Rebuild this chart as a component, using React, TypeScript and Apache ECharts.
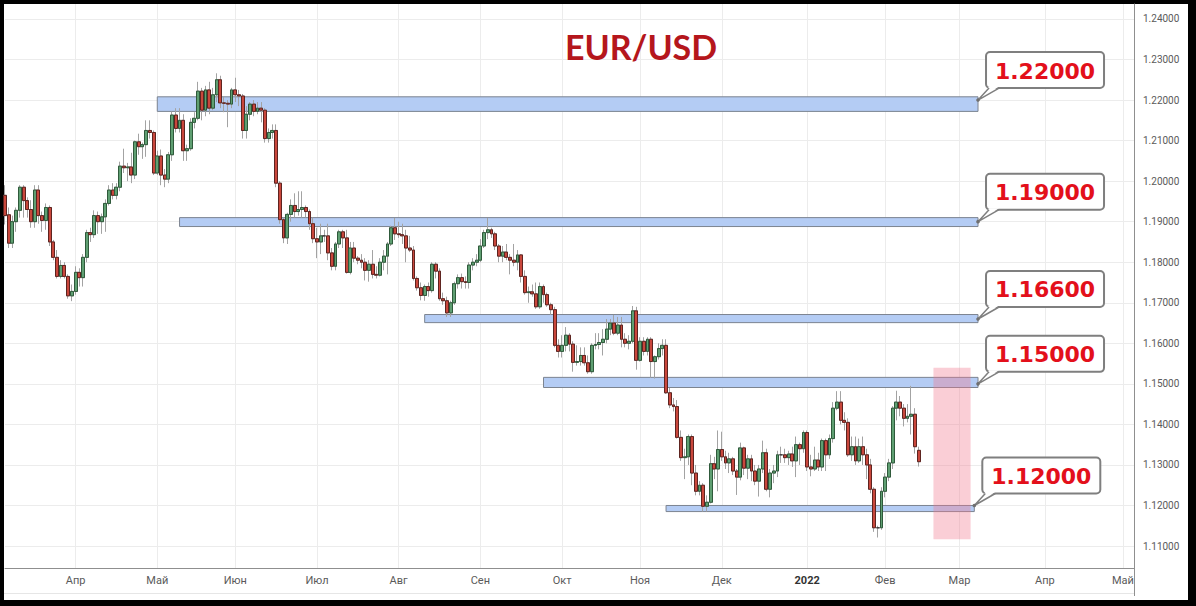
import React, { useEffect, useRef } from "react";
import * as echarts from "echarts";

// ---- daily EUR/USD candles, each [open, high, low, close] ----
const mar21 = [
  [1.1965, 1.1990, 1.1893, 1.1915], [1.1917, 1.1935, 1.1835, 1.1847], [1.1847, 1.1915, 1.1835, 1.1900],
  [1.1900, 1.1935, 1.1875, 1.1928], [1.1928, 1.1990, 1.1910, 1.1985], [1.1985, 1.1990, 1.1910, 1.1952],
  [1.1952, 1.1960, 1.1910, 1.1930], [1.1930, 1.1953, 1.1885, 1.1900], [1.1900, 1.1990, 1.1885, 1.1978],
  [1.1978, 1.1990, 1.1895, 1.1915], [1.1915, 1.1925, 1.1875, 1.1903], [1.1903, 1.1945, 1.1880, 1.1935],
  [1.1935, 1.1940, 1.1840, 1.1850], [1.1850, 1.1855, 1.1805, 1.1812], [1.1812, 1.1830, 1.1760, 1.1765],
  [1.1765, 1.1805, 1.1760, 1.1792], [1.1792, 1.1800, 1.1760, 1.1765], [1.1765, 1.1770, 1.1710, 1.1717],
  [1.1717, 1.1745, 1.1704, 1.1728],
];
const apr21 = [
  [1.1728, 1.1790, 1.1720, 1.1775], [1.1775, 1.1785, 1.1740, 1.1762], [1.1762, 1.1820, 1.1740, 1.1812],
  [1.1812, 1.1880, 1.1800, 1.1873], [1.1873, 1.1885, 1.1850, 1.1868], [1.1868, 1.1928, 1.1860, 1.1915],
  [1.1915, 1.1925, 1.1870, 1.1900], [1.1900, 1.1920, 1.1870, 1.1912], [1.1912, 1.1955, 1.1875, 1.1945],
  [1.1945, 1.1990, 1.1940, 1.1978], [1.1978, 1.1995, 1.1955, 1.1965], [1.1965, 1.1995, 1.1955, 1.1985],
  [1.1985, 1.2048, 1.1975, 1.2037], [1.2037, 1.2080, 1.2020, 1.2033], [1.2033, 1.2045, 1.2000, 1.2035],
  [1.2035, 1.2070, 1.1995, 1.2015], [1.2015, 1.2100, 1.2005, 1.2097], [1.2097, 1.2117, 1.2065, 1.2085],
  [1.2085, 1.2095, 1.2055, 1.2090], [1.2090, 1.2150, 1.2060, 1.2125], [1.2125, 1.2150, 1.2105, 1.2120],
  [1.2120, 1.2125, 1.2015, 1.2020],
];
const may21 = [
  [1.2020, 1.2075, 1.2015, 1.2062], [1.2062, 1.2078, 1.1990, 1.2015], [1.2015, 1.2030, 1.1985, 1.2005],
  [1.2005, 1.2072, 1.1995, 1.2065], [1.2065, 1.2172, 1.2050, 1.2163], [1.2163, 1.2180, 1.2120, 1.2130],
  [1.2130, 1.2180, 1.2120, 1.2150], [1.2150, 1.2165, 1.2050, 1.2075], [1.2075, 1.2090, 1.2050, 1.2080],
  [1.2080, 1.2155, 1.2075, 1.2145], [1.2145, 1.2170, 1.2130, 1.2155], [1.2155, 1.2245, 1.2150, 1.2222],
  [1.2222, 1.2230, 1.2150, 1.2175], [1.2175, 1.2235, 1.2160, 1.2225], [1.2225, 1.2245, 1.2165, 1.2180],
  [1.2180, 1.2230, 1.2175, 1.2213], [1.2213, 1.2266, 1.2195, 1.2250], [1.2250, 1.2260, 1.2180, 1.2193],
  [1.2193, 1.2210, 1.2170, 1.2192], [1.2192, 1.2200, 1.2133, 1.2190], [1.2190, 1.2230, 1.2180, 1.2225],
];
const jun21 = [
  [1.2225, 1.2255, 1.2195, 1.2213], [1.2213, 1.2225, 1.2185, 1.2210], [1.2210, 1.2215, 1.2105, 1.2125],
  [1.2125, 1.2185, 1.2105, 1.2165], [1.2165, 1.2195, 1.2150, 1.2190], [1.2190, 1.2200, 1.2160, 1.2172],
  [1.2172, 1.2195, 1.2165, 1.2180], [1.2180, 1.2195, 1.2145, 1.2175], [1.2175, 1.2180, 1.2095, 1.2105],
  [1.2105, 1.2130, 1.2095, 1.2120], [1.2120, 1.2140, 1.2105, 1.2125], [1.2125, 1.2140, 1.1985, 1.1995],
  [1.1995, 1.2000, 1.1895, 1.1905], [1.1905, 1.1910, 1.1847, 1.1860], [1.1860, 1.1922, 1.1845, 1.1918],
  [1.1918, 1.1955, 1.1900, 1.1940], [1.1940, 1.1970, 1.1910, 1.1925], [1.1925, 1.1975, 1.1915, 1.1930],
  [1.1930, 1.1975, 1.1910, 1.1935], [1.1935, 1.1940, 1.1910, 1.1925], [1.1925, 1.1930, 1.1880, 1.1895],
  [1.1895, 1.1910, 1.1847, 1.1858],
];
const jul21 = [
  [1.1858, 1.1885, 1.1810, 1.1850], [1.1850, 1.1895, 1.1820, 1.1865], [1.1865, 1.1880, 1.1850, 1.1865],
  [1.1865, 1.1895, 1.1805, 1.1823], [1.1823, 1.1835, 1.1780, 1.1790], [1.1790, 1.1850, 1.1780, 1.1845],
  [1.1845, 1.1880, 1.1835, 1.1875], [1.1875, 1.1880, 1.1835, 1.1860], [1.1860, 1.1880, 1.1772, 1.1775],
  [1.1775, 1.1850, 1.1770, 1.1835], [1.1835, 1.1850, 1.1800, 1.1810], [1.1810, 1.1815, 1.1795, 1.1805],
  [1.1805, 1.1820, 1.1785, 1.1800], [1.1800, 1.1810, 1.1755, 1.1780], [1.1780, 1.1805, 1.1752, 1.1795],
  [1.1795, 1.1830, 1.1760, 1.1770], [1.1770, 1.1790, 1.1760, 1.1768], [1.1768, 1.1810, 1.1765, 1.1800],
  [1.1800, 1.1830, 1.1780, 1.1815], [1.1815, 1.1850, 1.1770, 1.1845], [1.1845, 1.1890, 1.1840, 1.1885],
  [1.1885, 1.1909, 1.1855, 1.1870],
];
const aug21 = [
  [1.1870, 1.1900, 1.1860, 1.1868], [1.1868, 1.1895, 1.1845, 1.1865], [1.1865, 1.1880, 1.1800, 1.1835],
  [1.1835, 1.1865, 1.1825, 1.1830], [1.1830, 1.1840, 1.1755, 1.1760], [1.1760, 1.1765, 1.1730, 1.1737],
  [1.1737, 1.1750, 1.1706, 1.1718], [1.1718, 1.1745, 1.1705, 1.1740], [1.1740, 1.1750, 1.1715, 1.1730],
  [1.1730, 1.1800, 1.1725, 1.1795], [1.1795, 1.1800, 1.1760, 1.1778], [1.1778, 1.1785, 1.1705, 1.1710],
  [1.1710, 1.1725, 1.1695, 1.1705], [1.1705, 1.1715, 1.1665, 1.1675], [1.1675, 1.1705, 1.1665, 1.1700],
  [1.1700, 1.1752, 1.1695, 1.1747], [1.1747, 1.1770, 1.1735, 1.1762], [1.1762, 1.1772, 1.1735, 1.1752],
  [1.1752, 1.1765, 1.1735, 1.1750], [1.1750, 1.1800, 1.1735, 1.1793], [1.1793, 1.1810, 1.1780, 1.1800],
  [1.1800, 1.1820, 1.1790, 1.1805],
];
const sep21 = [
  [1.1805, 1.1857, 1.1800, 1.1840], [1.1840, 1.1880, 1.1835, 1.1873], [1.1873, 1.1909, 1.1857, 1.1880],
  [1.1880, 1.1885, 1.1860, 1.1870], [1.1870, 1.1875, 1.1830, 1.1840], [1.1840, 1.1845, 1.1800, 1.1815],
  [1.1815, 1.1840, 1.1800, 1.1825], [1.1825, 1.1845, 1.1805, 1.1812], [1.1812, 1.1820, 1.1770, 1.1805],
  [1.1805, 1.1845, 1.1790, 1.1800], [1.1800, 1.1830, 1.1780, 1.1818], [1.1818, 1.1820, 1.1750, 1.1765],
  [1.1765, 1.1780, 1.1720, 1.1725], [1.1725, 1.1740, 1.1700, 1.1727], [1.1727, 1.1745, 1.1715, 1.1722],
  [1.1722, 1.1750, 1.1685, 1.1690], [1.1690, 1.1750, 1.1685, 1.1740], [1.1740, 1.1745, 1.1700, 1.1720],
  [1.1720, 1.1725, 1.1690, 1.1695], [1.1695, 1.1700, 1.1670, 1.1683], [1.1683, 1.1690, 1.1590, 1.1595],
  [1.1595, 1.1610, 1.1565, 1.1580],
];
const oct21 = [
  [1.1580, 1.1620, 1.1565, 1.1595], [1.1595, 1.1640, 1.1580, 1.1620], [1.1620, 1.1625, 1.1580, 1.1598],
  [1.1598, 1.1605, 1.1530, 1.1553], [1.1553, 1.1595, 1.1545, 1.1555], [1.1555, 1.1590, 1.1545, 1.1570],
  [1.1570, 1.1590, 1.1545, 1.1552], [1.1552, 1.1570, 1.1525, 1.1530], [1.1530, 1.1600, 1.1525, 1.1595],
  [1.1595, 1.1625, 1.1585, 1.1597], [1.1597, 1.1625, 1.1585, 1.1602], [1.1602, 1.1635, 1.1570, 1.1610],
  [1.1610, 1.1660, 1.1600, 1.1635], [1.1635, 1.1660, 1.1620, 1.1650], [1.1650, 1.1670, 1.1620, 1.1625],
  [1.1625, 1.1665, 1.1620, 1.1645], [1.1645, 1.1665, 1.1590, 1.1610], [1.1610, 1.1625, 1.1590, 1.1600],
  [1.1600, 1.1620, 1.1585, 1.1605], [1.1605, 1.1692, 1.1600, 1.1680], [1.1680, 1.1690, 1.1535, 1.1558],
];
const nov21 = [
  [1.1558, 1.1615, 1.1555, 1.1605], [1.1605, 1.1615, 1.1570, 1.1580], [1.1580, 1.1615, 1.1570, 1.1610],
  [1.1610, 1.1615, 1.1515, 1.1555], [1.1555, 1.1570, 1.1513, 1.1567], [1.1567, 1.1600, 1.1560, 1.1587],
  [1.1587, 1.1610, 1.1570, 1.1595], [1.1595, 1.1610, 1.1475, 1.1478], [1.1478, 1.1490, 1.1440, 1.1448],
  [1.1448, 1.1465, 1.1432, 1.1444], [1.1444, 1.1460, 1.1365, 1.1368], [1.1368, 1.1385, 1.1310, 1.1318],
  [1.1318, 1.1340, 1.1265, 1.1320], [1.1320, 1.1375, 1.1300, 1.1370], [1.1370, 1.1375, 1.1250, 1.1280],
  [1.1280, 1.1300, 1.1225, 1.1235], [1.1235, 1.1260, 1.1225, 1.1250], [1.1250, 1.1255, 1.1185, 1.1198],
  [1.1198, 1.1225, 1.1185, 1.1208], [1.1208, 1.1325, 1.1205, 1.1303], [1.1303, 1.1320, 1.1265, 1.1290],
  [1.1290, 1.1385, 1.1235, 1.1338],
];
const dec21 = [
  [1.1338, 1.1382, 1.1310, 1.1320], [1.1320, 1.1335, 1.1290, 1.1305], [1.1305, 1.1330, 1.1280, 1.1315],
  [1.1315, 1.1320, 1.1275, 1.1285], [1.1285, 1.1290, 1.1226, 1.1270], [1.1270, 1.1355, 1.1262, 1.1342],
  [1.1342, 1.1345, 1.1275, 1.1292], [1.1292, 1.1325, 1.1265, 1.1315], [1.1315, 1.1325, 1.1260, 1.1285],
  [1.1285, 1.1300, 1.1250, 1.1260], [1.1260, 1.1300, 1.1222, 1.1290], [1.1290, 1.1360, 1.1280, 1.1330],
  [1.1330, 1.1340, 1.1235, 1.1240], [1.1240, 1.1290, 1.1220, 1.1280], [1.1280, 1.1300, 1.1255, 1.1285],
  [1.1285, 1.1335, 1.1270, 1.1325], [1.1325, 1.1345, 1.1305, 1.1325], [1.1325, 1.1340, 1.1305, 1.1318],
  [1.1318, 1.1335, 1.1300, 1.1327], [1.1327, 1.1345, 1.1295, 1.1310], [1.1310, 1.1370, 1.1270, 1.1350],
  [1.1350, 1.1355, 1.1300, 1.1340], [1.1340, 1.1385, 1.1330, 1.1380],
];
const jan22 = [
  [1.1380, 1.1385, 1.1285, 1.1295], [1.1295, 1.1325, 1.1272, 1.1290], [1.1290, 1.1345, 1.1285, 1.1312],
  [1.1312, 1.1330, 1.1285, 1.1295], [1.1295, 1.1365, 1.1285, 1.1360], [1.1360, 1.1365, 1.1285, 1.1325],
  [1.1325, 1.1375, 1.1315, 1.1365], [1.1365, 1.1455, 1.1355, 1.1440], [1.1440, 1.1482, 1.1435, 1.1455],
  [1.1455, 1.1482, 1.1400, 1.1410], [1.1410, 1.1430, 1.1385, 1.1405], [1.1405, 1.1415, 1.1320, 1.1325],
  [1.1325, 1.1370, 1.1310, 1.1345], [1.1345, 1.1370, 1.1300, 1.1310], [1.1310, 1.1365, 1.1305, 1.1345],
  [1.1345, 1.1370, 1.1300, 1.1325], [1.1325, 1.1340, 1.1265, 1.1300], [1.1300, 1.1315, 1.1230, 1.1240],
  [1.1240, 1.1245, 1.1135, 1.1145], [1.1145, 1.1150, 1.1121, 1.1145], [1.1145, 1.1245, 1.1140, 1.1235],
];
const feb22 = [
  [1.1235, 1.1280, 1.1220, 1.1270], [1.1270, 1.1315, 1.1260, 1.1305], [1.1305, 1.1445, 1.1290, 1.1440],
  [1.1440, 1.1483, 1.1410, 1.1455], [1.1455, 1.1470, 1.1420, 1.1440], [1.1440, 1.1450, 1.1395, 1.1415],
  [1.1415, 1.1450, 1.1405, 1.1420], [1.1420, 1.1495, 1.1375, 1.1425], [1.1425, 1.1440, 1.1328, 1.1345],
  [1.1336, 1.1345, 1.1296, 1.1308],
];

// ---- axes ----
const firstDay = "2021-03-05";
const totalSlots = 305; // trading days on the axis, incl. empty future ones
const monthLabels = ["Апр", "Май", "Июн", "Июл", "Авг", "Сен", "Окт", "Ноя", "Дек", "2022", "Фев", "Мар", "Апр", "Май"];
const yTicks = [1.11, 1.12, 1.13, 1.14, 1.15, 1.16, 1.17, 1.18, 1.19, 1.2, 1.21, 1.22, 1.23, 1.24];
const yMin = 1.10458;
const yMax = 1.24369;

// ---- annotations ----
const zoneLabels = ["1.22000", "1.19000", "1.16600", "1.15000", "1.12000"];
const zoneLevels = [1.22, 1.19, 1.166, 1.15, 1.12];
const zoneTops = [1.2208, 1.191, 1.1671, 1.1516, 1.12];
const zoneBottoms = [1.2172, 1.1888, 1.1651, 1.1491, 1.1185];
const zoneStarts = [41, 47, 113, 145, 178];
const zoneEnds = [262, 262, 262, 262, 261];
const pinkZone = { start: 250, end: 260, top: 1.154, bottom: 1.1117 };

const candles = [...mar21, ...apr21, ...may21, ...jun21, ...jul21, ...aug21, ...sep21, ...oct21, ...nov21, ...dec21, ...jan22, ...feb22];

function weekdays(start: string, count: number): string[] {
  const out: string[] = [];
  const d = new Date(start + "T00:00:00Z");
  while (out.length < count) {
    const wd = d.getUTCDay();
    if (wd !== 0 && wd !== 6) out.push(d.toISOString().slice(0, 10));
    d.setUTCDate(d.getUTCDate() + 1);
  }
  return out;
}

export default function App() {
  const ref = useRef<HTMLDivElement>(null);

  useEffect(() => {
    document.body.style.margin = "0";
    if (!ref.current) return;
    const chart = echarts.init(ref.current, undefined, { renderer: "svg" });

    const dates = weekdays(firstDay, totalSlots);
    const labelAt: Record<number, string> = {};
    let m = 0;
    for (let i = 1; i < dates.length; i++) {
      if (dates[i].slice(5, 7) !== dates[i - 1].slice(5, 7)) labelAt[i] = monthLabels[m++];
    }
    const isMonthStart = (i: number) => labelAt[i] !== undefined;

    const wickData = candles.map(([o, h, l, c]) => [o, c, l, h]);
    const bodyData = candles.map(([o, , , c]) => [o, c, Math.min(o, c), Math.max(o, c)]);

    const zoneAreas: any[] = zoneLevels.map((_, k) => [
      { coord: [zoneStarts[k], zoneTops[k]] },
      { coord: [zoneEnds[k], zoneBottoms[k]] },
    ]);

    chart.setOption({
      animation: false,
      backgroundColor: "transparent",
      grid: { left: 5, right: 62, top: 4, bottom: 38 },
      xAxis: {
        type: "category",
        data: dates,
        boundaryGap: false,
        axisLine: { show: true, lineStyle: { color: "#8f8f8f", width: 1 } },
        axisTick: { show: false },
        axisLabel: {
          interval: (i: number) => isMonthStart(i),
          formatter: (_v: string, i: number) => {
            const t = labelAt[i] || "";
            return t === "2022" ? "{b|2022}" : t;
          },
          color: "#5a5a5a",
          fontSize: 11,
          fontFamily: "Roboto",
          margin: 7,
          rich: { b: { fontWeight: "bold", color: "#333", fontSize: 11, fontFamily: "Roboto" } },
        },
        splitLine: { show: true, interval: (i: number) => isMonthStart(i), lineStyle: { color: "#ececec", width: 1 } },
      },
      yAxis: {
        type: "value",
        position: "right",
        min: yMin,
        max: yMax,
        axisLine: { show: true, lineStyle: { color: "#8f8f8f", width: 1 } },
        axisTick: { show: false, customValues: yTicks },
        axisLabel: {
          customValues: yTicks,
          formatter: (v: number) => v.toFixed(5),
          color: "#5a5a5a",
          fontSize: 10,
          fontFamily: "Roboto",
          margin: 9,
        },
        splitLine: { show: true, lineStyle: { color: "#ececec", width: 1 } },
      },
      series: [
        {
          type: "line",
          data: [],
          z: 1,
          markArea: {
            silent: true,
            itemStyle: { color: "#b4ccf4", borderColor: "#7c8490", borderWidth: 1 },
            data: zoneAreas,
          },
        },
        {
          type: "candlestick",
          data: wickData,
          barWidth: 3.4,
          z: 2,
          itemStyle: {
            color: "#a3a3a3", color0: "#a3a3a3", borderColor: "#a3a3a3", borderColor0: "#a3a3a3",
            borderColorDoji: "#a3a3a3", borderWidth: 1,
          },
        },
        {
          type: "candlestick",
          data: bodyData,
          barWidth: 3.4,
          z: 3,
          itemStyle: {
            color: "#5f9f72", color0: "#c9473c", borderColor: "#2f5a3b", borderColor0: "#5e2420",
            borderColorDoji: "#3a3a3a", borderWidth: 1,
          },
        },
      ],
    });

    const tl = chart.convertToPixel({ xAxisIndex: 0, yAxisIndex: 0 }, [pinkZone.start, pinkZone.top]) as number[];
    const br = chart.convertToPixel({ xAxisIndex: 0, yAxisIndex: 0 }, [pinkZone.end, pinkZone.bottom]) as number[];

    const els: any[] = [
      {
        type: "rect", z: 40, silent: true,
        shape: { x: tl[0], y: tl[1], width: br[0] - tl[0], height: br[1] - tl[1] },
        style: { fill: "rgba(242,120,140,0.36)" },
      },
      {
        type: "text", x: 641, y: 46, z: 50,
        style: { text: "EUR/USD", fill: "#b5161c", font: "bold 34px Lato", textAlign: "center", textVerticalAlign: "middle" },
      },
      { type: "line", z: 50, shape: { x1: 1134.5, y1: 568, x2: 1134.5, y2: 596 }, style: { stroke: "#8f8f8f", lineWidth: 1 } },
      { type: "line", z: 50, shape: { x1: 4, y1: 593.5, x2: 1134, y2: 593.5 }, style: { stroke: "#e6e6e6", lineWidth: 1 } },
    ];
    zoneLevels.forEach((lv, k) => {
      const p = chart.convertToPixel({ xAxisIndex: 0, yAxisIndex: 0 }, [zoneEnds[k], lv]) as number[];
      const ax = p[0], ay = p[1];
      const bx = ax + 8, bb = ay - 12, bw = 118, bh = 36;
      els.push(
        { type: "rect", z: 60, shape: { x: bx, y: bb - bh, width: bw, height: bh, r: 4 }, style: { fill: "#ffffff", stroke: "#7f7f7f", lineWidth: 2 } },
        { type: "polygon", z: 61, shape: { points: [[ax, ay], [ax + 11, bb - 1.5], [ax + 21, bb - 1.5]] }, style: { fill: "#ffffff" } },
        { type: "polyline", z: 62, shape: { points: [[ax + 11, bb], [ax, ay], [ax + 21, bb]] }, style: { stroke: "#7f7f7f", lineWidth: 1.5, fill: null } },
        { type: "circle", z: 63, shape: { cx: ax, cy: ay, r: 1.8 }, style: { fill: "#6f6f6f" } },
        {
          type: "text", z: 64, x: bx + bw / 2, y: bb - bh / 2 + 1,
          style: { text: zoneLabels[k], fill: "#e3101b", font: "bold 22px 'DejaVu Sans'", textAlign: "center", textVerticalAlign: "middle" },
        }
      );
    });
    chart.setOption({ graphic: { elements: els } });

    return () => chart.dispose();
  }, []);

  return (
    <div style={{ position: "fixed", left: 0, top: 0, width: 1196, height: 606, background: "#000" }}>
      <div style={{ position: "absolute", left: 4, top: 4, width: 1184, height: 596, background: "#fff" }} />
      <div ref={ref} style={{ position: "absolute", left: 0, top: 0, width: 1196, height: 606 }} />
    </div>
  );
}
